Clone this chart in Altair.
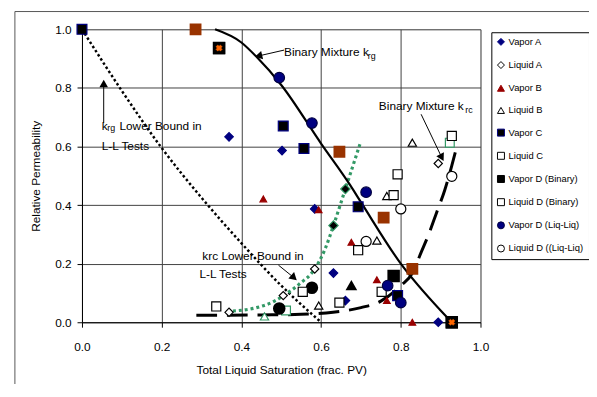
import altair as alt
import pandas as pd

FONT = "Liberation Sans"

# ---------------- marker series (legend) ----------------
series_names = ["Vapor A", "Liquid A", "Vapor B", "Liquid B", "Vapor C", "Liquid C",
                "Vapor D (Binary)", "Liquid D (Binary)", "Vapor D (Liq-Liq)", "Liquid D ((Liq-Liq)"]

vapor_a_x = [0.369, 0.502, 0.584, 0.631, 0.661, 0.894]
vapor_a_y = [0.633, 0.586, 0.387, 0.168, 0.074, 0.0]
liquid_a_x = [0.369, 0.505, 0.584, 0.894]
liquid_a_y = [0.034, 0.091, 0.182, 0.542]
vapor_b_x = [0.455, 0.594, 0.676, 0.740, 0.765, 0.829]
vapor_b_y = [0.421, 0.384, 0.273, 0.145, 0.074, 0.0]
liquid_b_x = [0.594, 0.740, 0.765, 0.829]
liquid_b_y = [0.057, 0.279, 0.431, 0.613]
vapor_c_x = [0.0, 0.505, 0.557, 0.693, 0.792, 0.928]
vapor_c_y = [1.0, 0.670, 0.593, 0.394, 0.091, 0.0]
liquid_c_x = [0.337, 0.646, 0.693, 0.782, 0.792, 0.928]
liquid_c_y = [0.054, 0.067, 0.246, 0.434, 0.505, 0.636]
vapor_db_x = [0.344, 0.782, 0.928]
vapor_db_y = [0.936, 0.158, 0.0]
liquid_db_x = [0.554, 0.752]
liquid_db_y = [0.104, 0.104]
vapor_dl_x = [0.495, 0.577, 0.713, 0.767, 0.800]
vapor_dl_y = [0.835, 0.680, 0.444, 0.125, 0.067]
liquid_dl_x = [0.713, 0.800, 0.928]
liquid_dl_y = [0.276, 0.387, 0.498]

marker_shapes = ["diamond", "diamond", "triangle-up", "triangle-up", "square", "square",
                 "square", "square", "circle", "circle"]
marker_fills = ["#000080", "#ffffff", "#990000", "#ffffff", "#000000", "#ffffff",
                "#000000", "#ffffff", "#000080", "#ffffff"]
marker_strokes = ["#000080", "#000000", "#990000", "#000000", "#000080", "#000000",
                  "#000000", "#000000", "#000040", "#000000"]
marker_sizes = [75, 70, 45, 70, 100, 85, 130, 85, 115, 105]

# ---------------- extra (unlabelled) markers ----------------
brown_sq_x = [0.285, 0.646, 0.757, 0.829]
brown_sq_y = [1.0, 0.582, 0.357, 0.182]
orange_x_x = [0.344, 0.928]
orange_x_y = [0.936, 0.0]
green_dia_x = [0.631, 0.661]
green_dia_y = [0.33, 0.455]
green_sq_x = [0.512, 0.923]
green_sq_y = [0.04, 0.613]
green_tri_x = [0.458]
green_tri_y = [0.02]
black_circ_x = [0.495, 0.577]
black_circ_y = [0.047, 0.118]
black_tri_x = [0.676]
black_tri_y = [0.125]

# ---------------- curves ----------------
krg_bin_x = [0.334, 0.40, 0.438, 0.50, 0.60, 0.673, 0.70, 0.80, 0.90, 0.928]
krg_bin_y = [1.0, 0.955, 0.906, 0.81, 0.61, 0.468, 0.41, 0.20, 0.04, 0.0]
krg_lb_x = [0.0, 0.1, 0.2, 0.3, 0.4, 0.5, 0.6]
krg_lb_y = [1.0, 0.79, 0.595, 0.425, 0.27, 0.125, 0.0]
krc_lb_x = [0.364, 0.438, 0.48, 0.505, 0.545, 0.584, 0.61, 0.631, 0.661, 0.698]
krc_lb_y = [0.037, 0.05, 0.07, 0.09, 0.13, 0.182, 0.25, 0.33, 0.455, 0.61]
krc_bin_x = [0.287, 0.45, 0.55, 0.63, 0.70, 0.75, 0.80, 0.83, 0.85, 0.87, 0.89, 0.91, 0.928, 0.941]
krc_bin_y = [0.024, 0.025, 0.027, 0.034, 0.05, 0.072, 0.125, 0.17, 0.235, 0.30, 0.375, 0.45, 0.535, 0.603]

# ---------------- annotations ----------------
ann_text = ["Binary Mixture k", "Binary Mixture k", "k", "Lower Bound in", "L-L Tests",
            "krc Lower Bound in", "L-L Tests"]
ann_x = [0.507, 0.745, 0.0495, 0.094, 0.0495, 0.302, 0.2946]
ann_y = [0.922, 0.737, 0.67, 0.67, 0.603, 0.2256, 0.165]
sub_text = ["rg", "rc", "rg"]
sub_x = [0.717, 0.962, 0.0635]
sub_y = [0.910, 0.724, 0.662]

arrow_x = [0.507, 0.851, 0.0545, 0.493]
arrow_y = [0.929, 0.710, 0.680, 0.195]
arrow_x2 = [0.443, 0.903, 0.0545, 0.532]
arrow_y2 = [0.909, 0.562, 0.815, 0.152]
arrow_angle = [257, 152, 0, 132]

# ---------------- build ----------------
x_scale = alt.Scale(domain=[0, 1], nice=False, zero=False)
y_scale = alt.Scale(domain=[0, 1], nice=False, zero=False)
ticks = [0.0, 0.2, 0.4, 0.6, 0.8, 1.0]

X = alt.X("x:Q", scale=x_scale, axis=alt.Axis(
    values=ticks, format=".1f", title="Total Liquid Saturation (frac. PV)",
    grid=True, gridColor="#404040", gridWidth=1, domainColor="#000000",
    tickColor="#000000", tickSize=5, labelPadding=15, titlePadding=12,
    labelFlush=False, labelOverlap=False,
    labelFont=FONT, labelFontSize=12, titleFont=FONT, titleFontSize=12,
    titleFontWeight="normal", labelColor="#000000", titleColor="#000000"))
Y = alt.Y("y:Q", scale=y_scale, axis=alt.Axis(
    values=ticks, format=".1f", title="Relative Permeability",
    grid=True, gridColor="#404040", gridWidth=1, domainColor="#000000",
    tickColor="#000000", tickSize=5, labelPadding=6, titlePadding=12,
    labelFlush=False, labelOverlap=False,
    labelFont=FONT, labelFontSize=12, titleFont=FONT, titleFontSize=12,
    titleFontWeight="normal", labelColor="#000000", titleColor="#000000"))


def xy_df(xs, ys):
    return pd.DataFrame({"x": xs, "y": ys, "i": list(range(len(xs)))})


frame = alt.Chart(pd.DataFrame({"a": [0]})).mark_rect(
    fill="transparent", stroke="#555555", strokeWidth=1).encode(
    x=alt.value(-68), x2=alt.value(530), y=alt.value(-18), y2=alt.value(363))


def line_layer(xs, ys, **kw):
    return alt.Chart(xy_df(xs, ys)).mark_line(interpolate="monotone", **kw).encode(
        x=X, y=Y, order="i:Q")


l_krg_bin = line_layer(krg_bin_x, krg_bin_y, color="#000000", strokeWidth=2.2)
l_krg_lb = line_layer(krg_lb_x, krg_lb_y, color="#000000", strokeWidth=2.5,
                      strokeDash=[2.5, 2.5])
l_krc_lb = line_layer(krc_lb_x, krc_lb_y, color="#339966", strokeWidth=3.2,
                      strokeDash=[3, 3])
l_krc_bin = line_layer(krc_bin_x, krc_bin_y, color="#000000", strokeWidth=3,
                       strokeDash=[21, 10])

rows = []
series_xy = [(vapor_a_x, vapor_a_y), (liquid_a_x, liquid_a_y), (vapor_b_x, vapor_b_y),
             (liquid_b_x, liquid_b_y), (vapor_c_x, vapor_c_y), (liquid_c_x, liquid_c_y),
             (vapor_db_x, vapor_db_y), (liquid_db_x, liquid_db_y), (vapor_dl_x, vapor_dl_y),
             (liquid_dl_x, liquid_dl_y)]
for name, sz, (xs, ys) in zip(series_names, marker_sizes, series_xy):
    for xv, yv in zip(xs, ys):
        rows.append({"series": name, "x": xv, "y": yv, "sz": sz})
pts = pd.DataFrame(rows)

leg = alt.Legend(title=None, orient="none", legendX=415, legendY=3,
                 strokeColor="#000000", fillColor="#ffffff", padding=5,
                 labelFont=FONT, labelFontSize=9.5, labelColor="#000000",
                 rowPadding=11.5, labelLimit=200, labelOffset=3,
                 symbolSize=50, symbolStrokeWidth=1)

points = alt.Chart(pts).mark_point(opacity=1, strokeWidth=1.2).encode(
    x=X, y=Y,
    shape=alt.Shape("series:N", scale=alt.Scale(domain=series_names, range=marker_shapes), legend=leg),
    fill=alt.Fill("series:N", scale=alt.Scale(domain=series_names, range=marker_fills), legend=leg),
    stroke=alt.Stroke("series:N", scale=alt.Scale(domain=series_names, range=marker_strokes), legend=leg),
    size=alt.Size("sz:Q", scale=None),
)


def extra(xs, ys, **kw):
    return alt.Chart(xy_df(xs, ys)).mark_point(opacity=1, **kw).encode(x=X, y=Y)


e_brown = extra(brown_sq_x, brown_sq_y, shape="square", fill="#993300", stroke="#993300", size=100)
e_black_sq = extra(orange_x_x, orange_x_y, shape="square", fill="#000000", stroke="#000000", size=110)
e_orange = extra(orange_x_x, orange_x_y, shape="cross", fill="#ff6600", stroke="#ff6600",
                 size=40, angle=45, strokeWidth=0.5)
e_gdia = extra(green_dia_x, green_dia_y, shape="diamond", fill="#000000", stroke="#339966",
               size=90, strokeWidth=1.2)
e_gsq = extra(green_sq_x, green_sq_y, shape="square", fill="#ffffff", stroke="#339966",
              size=80, strokeWidth=1.2)
e_gtri = extra(green_tri_x, green_tri_y, shape="triangle-up", fill="#ffffff", stroke="#339966",
               size=70, strokeWidth=1.2)
e_bcirc = extra(black_circ_x, black_circ_y, shape="circle", fill="#000000", stroke="#000000", size=115)
e_btri = extra(black_tri_x, black_tri_y, shape="triangle-up", fill="#000000", stroke="#000000", size=70)

arrows = alt.Chart(pd.DataFrame({"x": arrow_x, "y": arrow_y, "x2": arrow_x2, "y2": arrow_y2})).mark_rule(
    color="#000000", strokeWidth=1).encode(x=X, y=Y, x2="x2:Q", y2="y2:Q")
heads = alt.Chart(pd.DataFrame({"x": arrow_x2, "y": arrow_y2, "a": arrow_angle})).mark_point(
    shape="triangle-up", filled=True, color="#000000", opacity=1, size=75).encode(
    x=X, y=Y, angle=alt.Angle("a:Q", scale=None))

texts = alt.Chart(pd.DataFrame({"x": ann_x, "y": ann_y, "t": ann_text})).mark_text(
    align="left", baseline="middle", font=FONT, fontSize=12, color="#000000").encode(
    x=X, y=Y, text="t:N")
subs = alt.Chart(pd.DataFrame({"x": sub_x, "y": sub_y, "t": sub_text})).mark_text(
    align="left", baseline="middle", font=FONT, fontSize=9, color="#000000").encode(
    x=X, y=Y, text="t:N")

chart = alt.layer(
    frame, l_krg_lb, l_krc_lb, l_krc_bin, l_krg_bin,
    e_gsq, e_gtri, e_bcirc, e_btri, points, e_brown, e_black_sq, e_orange, e_gdia,
    arrows, heads, texts, subs
).properties(
    width=404, height=297,
    padding={"left": 75, "top": 19, "right": 110, "bottom": 60},
    autosize=alt.AutoSizeParams(type="none"),
    background="#ffffff",
).configure_view(strokeWidth=0).configure(font=FONT)

chart.save("out.html", embed_options={"renderer": "svg", "actions": False})
